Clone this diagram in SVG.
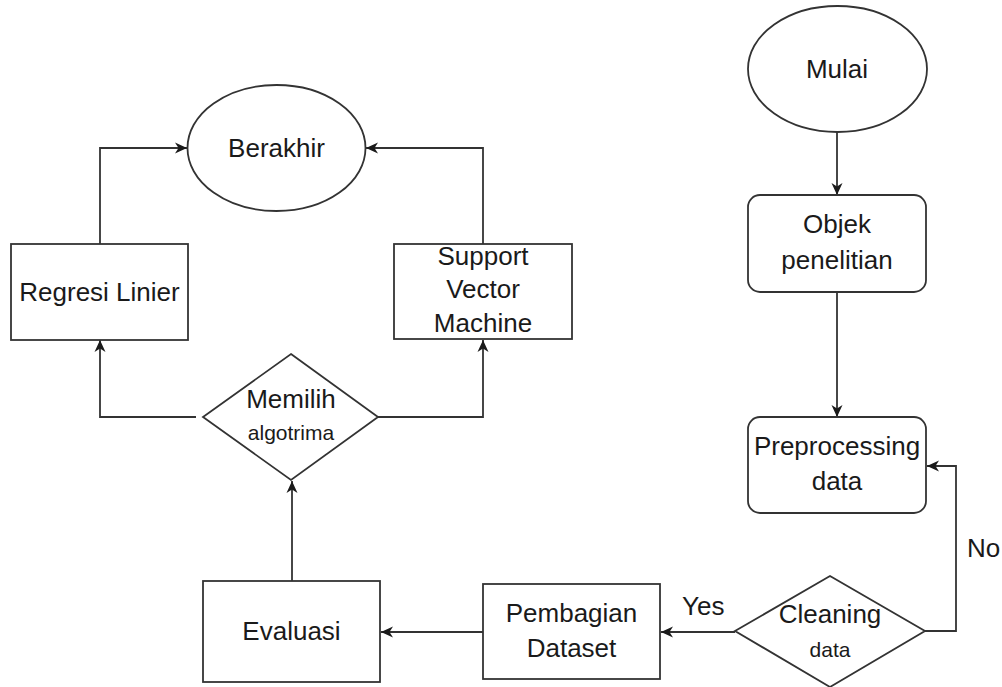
<svg xmlns="http://www.w3.org/2000/svg" width="1002" height="687" viewBox="0 0 1002 687">
  <defs>
    <marker id="arr" markerUnits="userSpaceOnUse" markerWidth="13" markerHeight="13" refX="12" refY="6.5" orient="auto">
      <path d="M0,1 L12,6.5 L0,12 L3.5,6.5 Z" fill="#1a1a1a"/>
    </marker>
    <style>
      .shape { fill: #ffffff; stroke: #333333; stroke-width: 1.8; }
      .conn { fill: none; stroke: #333333; stroke-width: 1.8; marker-end: url(#arr); }
      text { font-family: "Liberation Sans", Arial, sans-serif; fill: #1a1a1a; text-anchor: middle; }
      .t { font-size: 26px; }
      .s { font-size: 21px; }
      .lbl { font-size: 26px; text-anchor: start; }
    </style>
  </defs>
  <rect width="1002" height="687" fill="#ffffff"/>

  <g id="connectors">
    <path class="conn" d="M837,132 L837,195"/>
    <path class="conn" d="M837,292 L837,417"/>
    <path class="conn" d="M925,631 L956,631 L956,466 L927,466"/>
    <path class="conn" d="M735,632 L661,632"/>
    <path class="conn" d="M483,632 L381,632"/>
    <path class="conn" d="M292,581 L292,481"/>
    <path class="conn" d="M196,417 L100,417 L100,340"/>
    <path class="conn" d="M378,417 L483,417 L483,340"/>
    <path class="conn" d="M100,244 L100,148 L187,148"/>
    <path class="conn" d="M483,244 L483,148 L366,148"/>
    <text class="lbl" x="682" y="615">Yes</text>
    <text class="lbl" x="967" y="557">No</text>
  </g>

  <g id="mulai">
    <ellipse class="shape" cx="837.5" cy="69" rx="89.5" ry="63"/>
    <text class="t" x="837" y="78">Mulai</text>
  </g>

  <g id="objek">
    <rect class="shape" x="748" y="195" width="178" height="97" rx="12"/>
    <text class="t" x="837" y="233">Objek</text>
    <text class="t" x="837" y="269">penelitian</text>
  </g>

  <g id="preprocessing">
    <rect class="shape" x="748" y="417" width="178" height="96" rx="12"/>
    <text class="t" x="837" y="455">Preprocessing</text>
    <text class="t" x="837" y="490">data</text>
  </g>

  <g id="cleaning">
    <polygon class="shape" points="830,576 925,631 830,687 735,631"/>
    <text class="t" x="830" y="623">Cleaning</text>
    <text class="s" x="830" y="657">data</text>
  </g>

  <g id="pembagian">
    <rect class="shape" x="483" y="584" width="177" height="95"/>
    <text class="t" x="571.5" y="622">Pembagian</text>
    <text class="t" x="571.5" y="657">Dataset</text>
  </g>

  <g id="evaluasi">
    <rect class="shape" x="203" y="581" width="177" height="101"/>
    <text class="t" x="291.5" y="640">Evaluasi</text>
  </g>

  <g id="memilih">
    <polygon class="shape" points="291,354 378,417 291,480 203,417"/>
    <text class="t" x="291" y="408">Memilih</text>
    <text class="s" x="291" y="440">algotrima</text>
  </g>

  <g id="regresi">
    <rect class="shape" x="11" y="244" width="177" height="96"/>
    <text class="t" x="99.5" y="301">Regresi Linier</text>
  </g>

  <g id="svm">
    <rect class="shape" x="394" y="244" width="178" height="95"/>
    <text class="t" x="483" y="265">Support</text>
    <text class="t" x="483" y="298">Vector</text>
    <text class="t" x="483" y="332">Machine</text>
  </g>

  <g id="berakhir">
    <ellipse class="shape" cx="276.5" cy="148" rx="89" ry="63"/>
    <text class="t" x="276.5" y="157">Berakhir</text>
  </g>
</svg>
